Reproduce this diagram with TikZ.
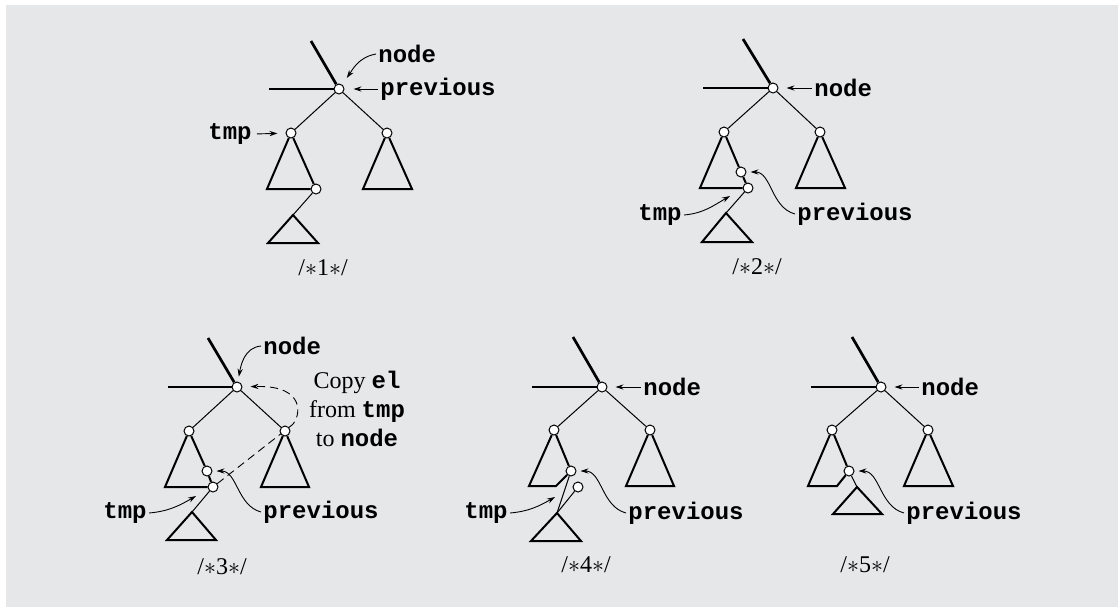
\documentclass[tikz,border=0pt]{standalone}
\usepackage{fontspec}
\setmainfont{Liberation Serif}
\setmonofont{Liberation Mono}
\usetikzlibrary{arrows.meta, backgrounds}
\definecolor{panel}{RGB}{230,231,233}
\newcommand{\kw}[1]{\texttt{\textbf{#1}}}

\begin{document}
\begin{tikzpicture}[x=0.5pt, y=-0.5pt,
        v/.style={circle, draw, fill=white, line width=0.5pt, inner sep=0pt, minimum size=5pt},
        thk/.style={line width=1.35pt},
        tri/.style={line width=1pt},
        edg/.style={line width=0.5pt},
        lbl/.style={font=\fontsize{12}{14.5}\selectfont\ttfamily\bfseries, inner sep=1pt},
        ttl/.style={font=\fontsize{12}{14.5}\selectfont, inner sep=1pt},
        ptr/.style={-{Stealth[length=4pt,width=2.6pt]}, line width=0.45pt},
        dsh/.style={ptr, dash pattern=on 4pt off 2.5pt}]
      \useasboundingbox (0,0) rectangle (1118,607);

      % /*1*/
      \node[v] (r1) at (339,89) {};
      \node[v] (a1) at (291,133) {};
      \node[v] (b1) at (387,133) {};
      \node[v] (p1) at (316,189) {};
      \coordinate (u1) at (311,41);
      \coordinate (h1) at (269,89);
      \coordinate (s1) at (293,215);
      \draw[thk] (u1) -- (r1);
      \draw[thk] (h1) -- (r1);
      \draw[edg] (r1) -- (a1);
      \draw[edg] (r1) -- (b1);
      \draw[tri] (a1) -- (267,189) -- (p1);
      \draw[tri] (p1) -- (a1);
      \draw[tri] (b1) -- (363,189) -- (412,189) -- (b1);
      \draw[edg] (p1) -- (s1);
      \draw[tri] (s1) -- (268,243) -- (318,243) -- cycle;
      \node[ttl] (k1) at (323,268) {/$\ast$1$\ast$/};
      \node[lbl, anchor=west] (nl1) at (376,54) {node};
      \node[lbl, anchor=west] (pl1) at (378,89) {previous};
      \node[lbl, anchor=east] (tl1) at (254,134) {tmp};
      \draw[ptr, shorten >=4pt] (nl1.west) to[out=190, in=55] (r1);
      \draw[ptr, shorten >=4.5pt] (pl1.west) -- (r1);
      \draw[ptr, shorten >=4pt, shorten <=1.5pt] (tl1.east) -- (a1);

      % /*2*/
      \node[v] (r2) at (773,88) {};
      \node[v] (a2) at (724,132) {};
      \node[v] (b2) at (820,132) {};
      \node[v] (p2) at (741,172) {};
      \node[v] (t2) at (748,188) {};
      \coordinate (u2) at (743,39);
      \coordinate (h2) at (703,88);
      \coordinate (s2) at (726,213);
      \coordinate (e2) at (730,196);
      \draw[thk] (u2) -- (r2);
      \draw[thk] (h2) -- (r2);
      \draw[edg] (r2) -- (a2);
      \draw[edg] (r2) -- (b2);
      \draw[tri] (a2) -- (p2);
      \draw[tri] (p2) -- (t2);
      \draw[tri] (t2) -- (700,188) -- (a2);
      \draw[tri] (b2) -- (796,188) -- (845,188) -- (b2);
      \draw[edg] (t2) -- (s2);
      \draw[tri] (s2) -- (702,242) -- (752,242) -- cycle;
      \node[ttl] (k2) at (757,267) {/$\ast$2$\ast$/};
      \node[lbl, anchor=west] (nl2) at (812,88) {node};
      \node[lbl, anchor=west] (pl2) at (795,214) {previous};
      \node[lbl, anchor=east] (tl2) at (684,215) {tmp};
      \draw[ptr, shorten >=4pt] (nl2.west) -- (r2);
      \draw[ptr, shorten >=2pt] (pl2.west) to[out=165, in=0] (p2);
      \draw[ptr] (tl2.east) to[out=5, in=210] (e2);

      % /*3*/
      \node[v] (r3) at (237,387) {};
      \node[v] (a3) at (189,431) {};
      \node[v] (b3) at (285,431) {};
      \node[v] (p3) at (207,471) {};
      \node[v] (t3) at (213,487) {};
      \coordinate (u3) at (208,338);
      \coordinate (h3) at (168,387);
      \coordinate (s3) at (192,512);
      \coordinate (e3) at (196,496);
      \coordinate (d3) at (292,425);
      \draw[thk] (u3) -- (r3);
      \draw[thk] (h3) -- (r3);
      \draw[edg] (r3) -- (a3);
      \draw[edg] (r3) -- (b3);
      \draw[tri] (a3) -- (p3);
      \draw[tri] (p3) -- (t3);
      \draw[tri] (t3) -- (165,487) -- (a3);
      \draw[tri] (b3) -- (261,487) -- (309,487) -- (b3);
      \draw[edg] (t3) -- (s3);
      \draw[tri] (s3) -- (167,540) -- (216,540) -- cycle;
      \node[ttl] (k3) at (222,567) {/$\ast$3$\ast$/};
      \node[ttl, align=center] (cp3) at (357,409) {Copy \kw{el}\\from \kw{tmp}\\to \kw{node}};
      \node[lbl, anchor=west] (nl3) at (261,346) {node};
      \node[lbl, anchor=west] (pl3) at (261,512) {previous};
      \node[lbl, anchor=east] (tl3) at (149,513) {tmp};
      \draw[ptr, shorten >=2.5pt] (nl3.west) to[out=185, in=80] (r3);
      \draw[ptr, shorten >=2pt] (pl3.west) to[out=165, in=0] (p3);
      \draw[ptr] (tl3.east) to[out=5, in=210] (e3);

      % /*4*/
      \node[v] (r4) at (602,387) {};
      \node[v] (a4) at (554,430) {};
      \node[v] (b4) at (650,430) {};
      \node[v] (p4) at (571,471) {};
      \node[v] (t4) at (578,487) {};
      \coordinate (u4) at (573,337);
      \coordinate (h4) at (532,387);
      \coordinate (s4) at (557,513);
      \coordinate (e4) at (555,497);
      \draw[thk] (u4) -- (r4);
      \draw[thk] (h4) -- (r4);
      \draw[edg] (r4) -- (a4);
      \draw[edg] (r4) -- (b4);
      \draw[tri] (a4) -- (p4);
      \draw[tri] (p4) -- (556,486) -- (529,486) -- (a4);
      \draw[tri] (b4) -- (626,486) -- (674,486) -- (b4);
      \draw[edg] (p4) -- (s4);
      \draw[edg] (t4) -- (s4);
      \draw[tri] (s4) -- (531,541) -- (581,541) -- cycle;
      \node[ttl] (k4) at (586,565) {/$\ast$4$\ast$/};
      \node[lbl, anchor=west] (nl4) at (641,387) {node};
      \node[lbl, anchor=west] (pl4) at (626,513) {previous};
      \node[lbl, anchor=east] (tl4) at (510,513) {tmp};
      \draw[ptr, shorten >=4pt] (nl4.west) -- (r4);
      \draw[ptr, shorten >=2pt] (pl4.west) to[out=165, in=0] (p4);
      \draw[ptr] (tl4.east) to[out=5, in=210] (e4);

      % /*5*/
      \node[v] (r5) at (881,387) {};
      \node[v] (a5) at (832,430) {};
      \node[v] (b5) at (928,430) {};
      \node[v] (p5) at (849,471) {};
      \coordinate (u5) at (852,337);
      \coordinate (h5) at (811,387);
      \coordinate (s5) at (857,487);
      \draw[thk] (u5) -- (r5);
      \draw[thk] (h5) -- (r5);
      \draw[edg] (r5) -- (a5);
      \draw[edg] (r5) -- (b5);
      \draw[tri] (a5) -- (p5);
      \draw[tri] (p5) -- (837,486) -- (808,486) -- (a5);
      \draw[tri] (b5) -- (904,486) -- (953,486) -- (b5);
      \draw[edg] (p5) -- (s5);
      \draw[tri] (s5) -- (833,514) -- (882,514) -- cycle;
      \node[ttl] (k5) at (865,565) {/$\ast$5$\ast$/};
      \node[lbl, anchor=west] (nl5) at (919,387) {node};
      \node[lbl, anchor=west] (pl5) at (904,513) {previous};
      \draw[ptr, shorten >=4pt] (nl5.west) -- (r5);
      \draw[ptr, shorten >=2pt] (pl5.west) to[out=165, in=0] (p5);

      \begin{pgfonlayer}{background}
        \fill[panel] (6,5) rectangle (1118,607);
        \draw[dsh, shorten >=4pt] (t3) -- (d3) .. controls (300,418) and (308,385) .. (r3);
      \end{pgfonlayer}
    \end{tikzpicture}
\end{document}
